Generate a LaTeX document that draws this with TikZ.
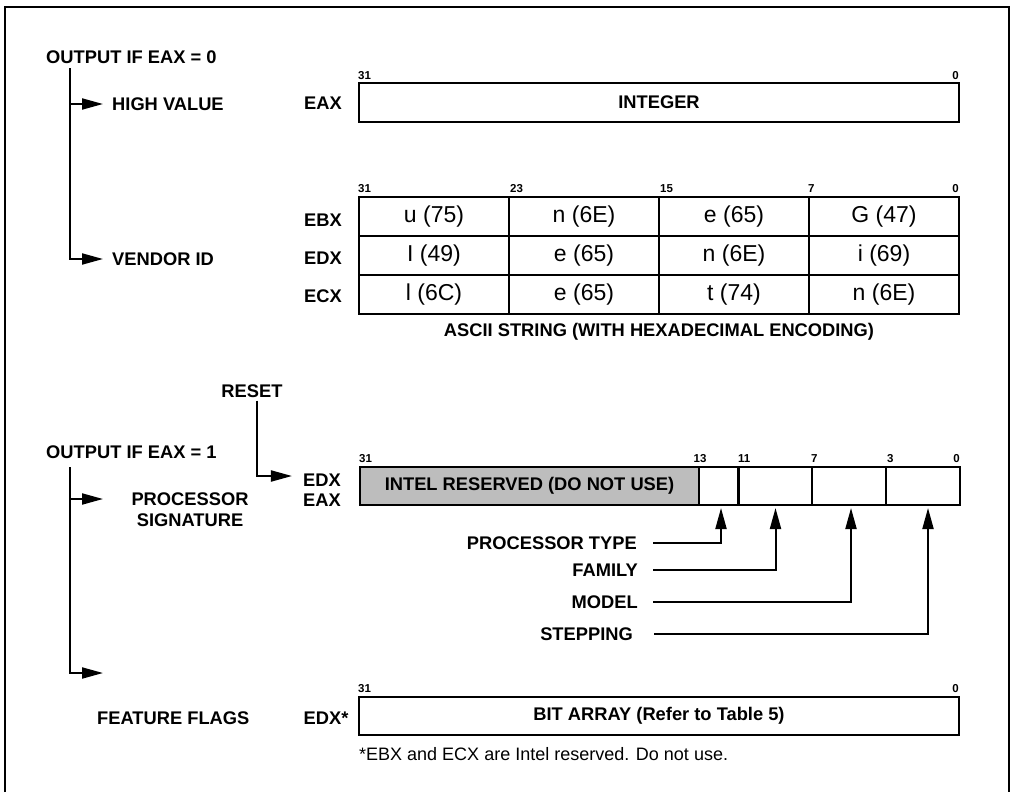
\documentclass[tikz,border=0pt]{standalone}
\usepackage{fontspec}
\setmainfont{Liberation Sans}
\usetikzlibrary{arrows.meta,calc}
\definecolor{resv}{RGB}{189,189,189}
\begin{document}
\begin{tikzpicture}[x=1pt,y=-1pt,
  lbl/.style={inner sep=0pt,font=\fontsize{18.3}{20}\selectfont\bfseries},
  bitlbl/.style={inner sep=0pt,font=\fontsize{11.5}{12}\selectfont\bfseries},
  cell/.style={draw,line width=2pt,minimum width=150pt,minimum height=39pt,inner sep=0pt,font=\fontsize{23}{25}\selectfont},
  regbox/.style={draw,line width=2pt,minimum width=600pt,minimum height=39pt,inner sep=0pt,font=\fontsize{18.3}{20}\selectfont\bfseries},
  fieldbox/.style={draw,line width=2pt,minimum height=38pt,inner sep=0pt,font=\fontsize{18.3}{20}\selectfont\bfseries},
  conn/.style={line width=2pt},
  arr/.style={line width=2pt,-{Triangle[length=21pt,width=11pt]}},
]
\useasboundingbox (0,0) rectangle (1011,792);
% outer frame (open at the bottom)
\draw[line width=2.5pt] (5,792) -- (5,7) -- (1009,7) -- (1009,792);

% ---------- EAX = 0 ----------
\node[lbl,anchor=west] (out0) at (46,57) {OUTPUT IF EAX = 0};
\node[lbl,anchor=west] (hv) at (112,104) {HIGH VALUE};
\node[lbl,anchor=west] (vid) at (112,259) {VENDOR ID};
\coordinate (v0) at (70,68);
\draw[arr] (v0) |- ([xshift=-9pt]hv.west);
\draw[arr] (v0) |- ([xshift=-9pt]vid.west);

\node[lbl] (eaxl) at (323,103) {EAX};
\node[regbox] (eaxbox) at (659,102.5) {INTEGER};
\node[bitlbl,anchor=south west] (eax31) at ([yshift=2pt]eaxbox.north west) {31};
\node[bitlbl,anchor=south east] (eax0) at ([yshift=2pt,xshift=-1pt]eaxbox.north east) {0};

% vendor string table
\node[lbl] (ebxl) at (323,220) {EBX};
\node[lbl] (edxl) at (323,258) {EDX};
\node[lbl] (ecxl) at (323,296) {ECX};
\node[cell] (c11) at (434,216.5) {u (75)};
\node[cell] (c12) at (584,216.5) {n (6E)};
\node[cell] (c13) at (734,216.5) {e (65)};
\node[cell] (c14) at (884,216.5) {G (47)};
\node[cell] (c21) at (434,255.5) {I (49)};
\node[cell] (c22) at (584,255.5) {e (65)};
\node[cell] (c23) at (734,255.5) {n (6E)};
\node[cell] (c24) at (884,255.5) {i (69)};
\node[cell] (c31) at (434,294.5) {l (6C)};
\node[cell] (c32) at (584,294.5) {e (65)};
\node[cell] (c33) at (734,294.5) {t (74)};
\node[cell] (c34) at (884,294.5) {n (6E)};
\node[bitlbl,anchor=south west] (t31) at ([yshift=3pt]c11.north west) {31};
\node[bitlbl,anchor=south west] (t23) at ([yshift=3pt,xshift=2pt]c12.north west) {23};
\node[bitlbl,anchor=south west] (t15) at ([yshift=3pt,xshift=2pt]c13.north west) {15};
\node[bitlbl,anchor=south west] (t7) at ([yshift=3pt]c14.north west) {7};
\node[bitlbl,anchor=south east] (t0) at ([yshift=3pt,xshift=-1pt]c14.north east) {0};
\node[lbl] (ascii) at (659,332) {ASCII STRING (WITH HEXADECIMAL ENCODING)};

% ---------- EAX = 1 ----------
\node[lbl] (reset) at (252,391) {RESET};
\node[lbl,anchor=west] (out1) at (46,452) {OUTPUT IF EAX = 1};
\node[lbl] (edx1) at (322,480) {EDX};
\node[lbl] (eax1) at (322,500) {EAX};
\draw[arr] ([xshift=5pt,yshift=-3pt]reset.south) |- ([xshift=-11pt,yshift=4pt]edx1.west);

\node[lbl,align=center] (psig) at (190,509.5) {PROCESSOR\\[1pt]SIGNATURE};
\coordinate (v1) at (70,467);
\coordinate (psigtip) at (103,499);
\coordinate (fftip) at (103,673);
\draw[arr] (v1) |- (psigtip);
\draw[arr] (v1) |- (fftip);

% signature register
\node[fieldbox,fill=resv,anchor=west,minimum width=339pt] (resvd) at (359,486) {INTEL RESERVED (DO NOT USE)};
\node[fieldbox,anchor=west,minimum width=40pt] (ptype) at (698,486) {};
\node[fieldbox,anchor=west,minimum width=73pt] (fam) at (738,486) {};
\node[fieldbox,anchor=west,minimum width=74pt] (model) at (811,486) {};
\node[fieldbox,anchor=west,minimum width=74pt] (stepf) at (885,486) {};
\draw[line width=3pt] (fam.north west) -- (fam.south west);
\node[bitlbl,anchor=south west] (s31) at ([yshift=3pt]resvd.north west) {31};
\node[bitlbl,anchor=south] (s13) at ([yshift=3pt]resvd.north east) {13};
\node[bitlbl,anchor=south west] (s11) at ([yshift=3pt]fam.north west) {11};
\node[bitlbl,anchor=south west] (s7) at ([yshift=3pt]model.north west) {7};
\node[bitlbl,anchor=south west] (s3) at ([yshift=3pt,xshift=2pt]stepf.north west) {3};
\node[bitlbl,anchor=south east] (s0) at ([yshift=3pt,xshift=-1pt]stepf.north east) {0};

\node[lbl,anchor=east] (ptl) at (637,543) {PROCESSOR TYPE};
\node[lbl,anchor=east] (faml) at (638,570) {FAMILY};
\node[lbl,anchor=east] (modl) at (638,602) {MODEL};
\node[lbl,anchor=east] (stepl) at (633,634) {STEPPING};
\draw[arr] (653,543) -| ([xshift=2pt,yshift=-2pt]ptype.south);
\draw[arr] (653,570) -| ([yshift=-2pt]fam.south);
\draw[arr] (653,602) -| ([xshift=2pt,yshift=-2pt]model.south);
\draw[arr] (654,634) -| ([xshift=5pt,yshift=-2pt]stepf.south);

% feature flags
\node[lbl,anchor=west] (ffl) at (97,718) {FEATURE FLAGS};
\node[lbl] (edxs) at (326,718) {EDX*};
\node[regbox,minimum height=38pt] (ffbox) at (659,716) {BIT ARRAY (Refer to Table 5)};
\node[bitlbl,anchor=south west] (f31) at ([yshift=3pt]ffbox.north west) {31};
\node[bitlbl,anchor=south east] (f0) at ([yshift=3pt,xshift=-1pt]ffbox.north east) {0};
\node[inner sep=0pt,anchor=west,font=\fontsize{18}{20}\selectfont] (note) at (359,754) {*EBX and ECX are Intel reserved. Do not use.};
\end{tikzpicture}
\end{document}
